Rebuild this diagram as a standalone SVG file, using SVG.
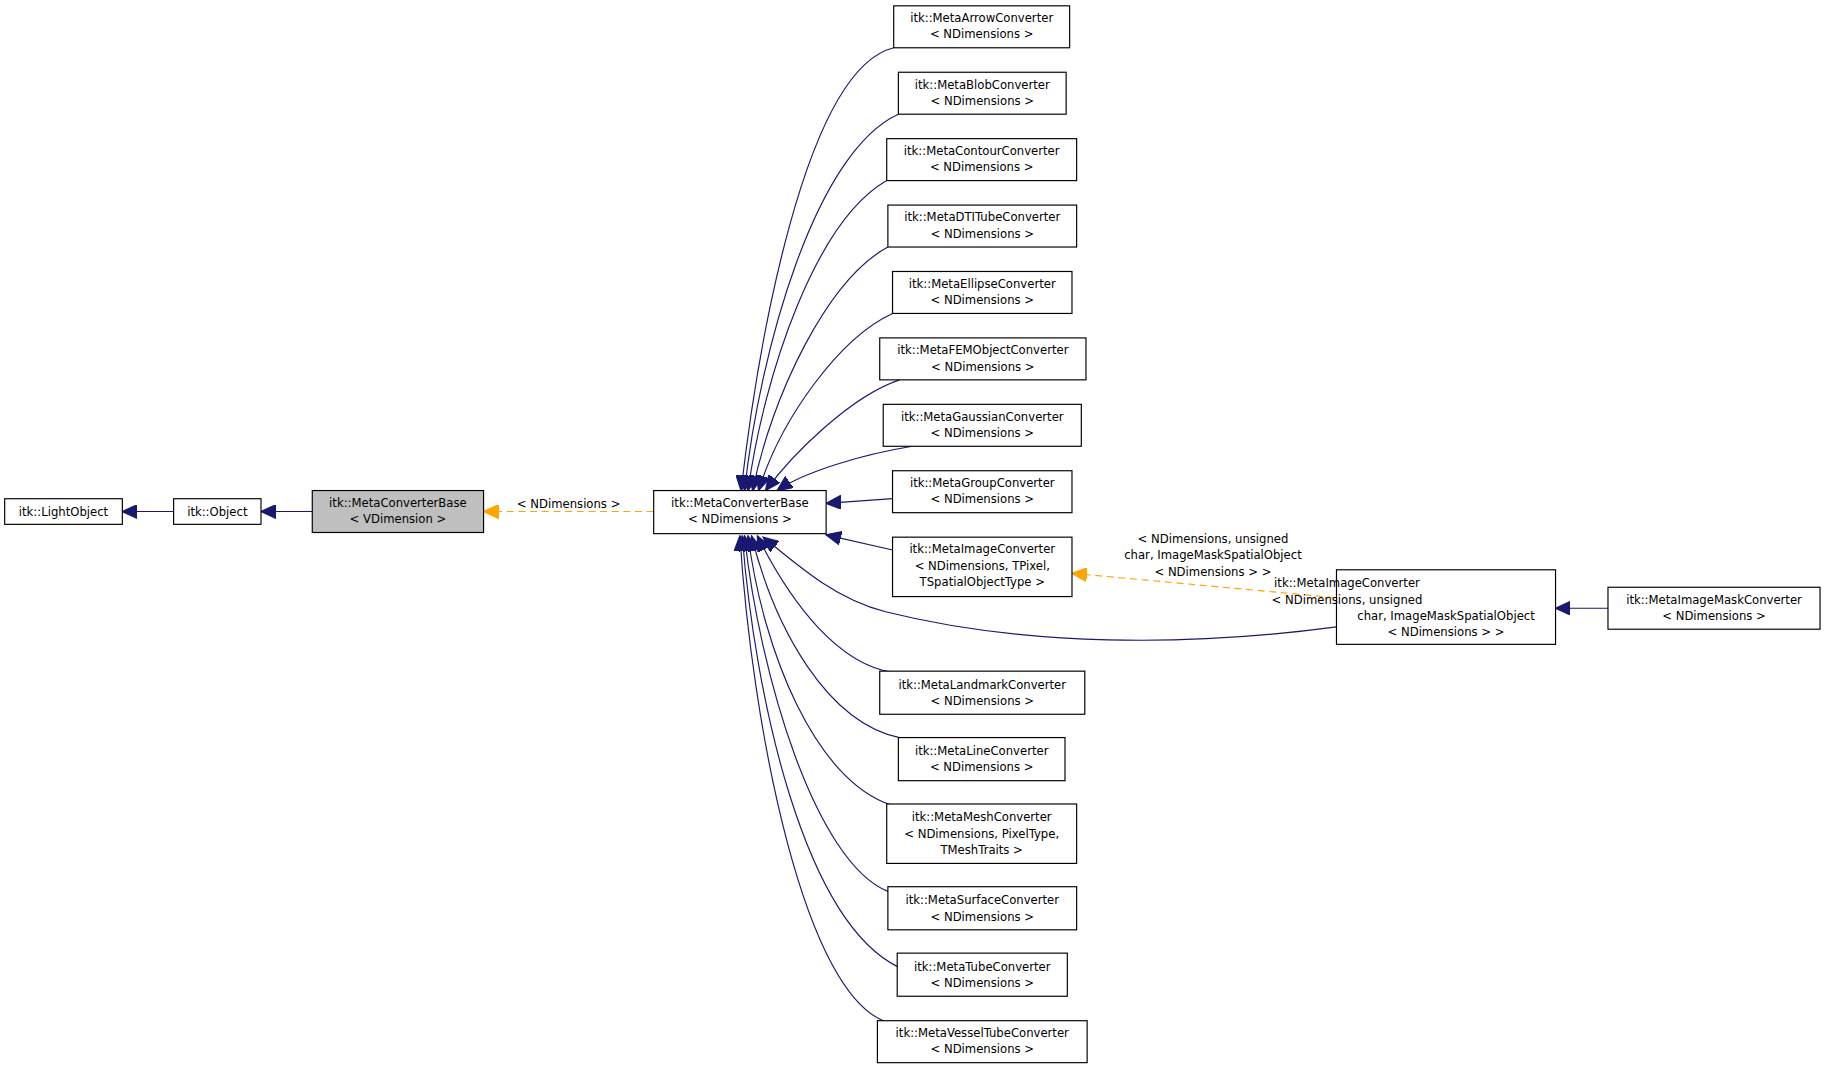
<svg xmlns="http://www.w3.org/2000/svg" width="1827" height="1069" viewBox="0 0 1827 1069">
<style>
.n rect{fill:#fff;stroke:#000;stroke-width:1}
.n.g rect{fill:#bfbfbf}
text{font-family:"DejaVu Sans",sans-serif;font-size:10px;fill:#000;text-anchor:middle}
.e{fill:none;stroke:#191970;stroke-width:1;marker-start:url(#a)}
.d{fill:none;stroke:#ffa500;stroke-width:1;stroke-dasharray:6,4;marker-start:url(#o)}
</style>
<defs>
<marker id="a" markerUnits="userSpaceOnUse" markerWidth="14" markerHeight="12" refX="11" refY="5" orient="auto-start-reverse" viewBox="0 0 12 10"><path d="M0,0L11,5L0,10z" fill="#191970" stroke="#191970"/></marker>
<marker id="o" markerUnits="userSpaceOnUse" markerWidth="14" markerHeight="12" refX="11" refY="5" orient="auto-start-reverse" viewBox="0 0 12 10"><path d="M0,0L11,5L0,10z" fill="#ffa500" stroke="#ffa500"/></marker>
</defs>
<rect width="1827" height="1069" fill="#fff"/>
<g transform="scale(1.1652)">
<g id="edges">
<path class="e" d="M105,439H149"/>
<path class="e" d="M224,439H268"/>
<path class="d" d="M415,439H561"/>
<text x="488" y="436">&lt; NDimensions &gt;</text>
<path class="e" d="M636,421C650,300 690,60 767,41"/>
<path class="e" d="M639,421C652,300 700,130 771,98"/>
<path class="e" d="M642,421C656,320 700,190 761,155"/>
<path class="e" d="M646,421C662,340 710,240 762,212"/>
<path class="e" d="M651,421C670,360 720,290 766,269"/>
<path class="e" d="M657,421C680,390 730,340 772,326"/>
<path class="e" d="M667,421C690,405 740,390 783,383"/>
<path class="e" d="M709,432L766,428"/>
<path class="e" d="M709,459L766,472"/>
<path class="e" d="M655,461C690,490 720,515 760,525C880,555 1020,555 1147,538"/>
<path class="d" d="M920,492L1147,513"/>
<text x="1041" y="466">&lt; NDimensions, unsigned</text>
<text x="1041" y="480">char, ImageMaskSpatialObject</text>
<text x="1041" y="494">&lt; NDimensions &gt; &gt;</text>
<path class="e" d="M1335,522H1380"/>
<path class="e" d="M650,460C680,520 720,570 766,577"/>
<path class="e" d="M645,460C665,540 710,620 772,633"/>
<path class="e" d="M642,460C655,560 700,670 765,691"/>
<path class="e" d="M639,460C652,580 700,740 762,765"/>
<path class="e" d="M637,460C648,600 690,790 771,830"/>
<path class="e" d="M635,460C645,620 690,860 764,878"/>
</g>
<g id="n1" class="n"><rect x="4" y="428" width="101" height="22"/><text x="54.5" y="443">itk::LightObject</text></g>
<g id="n2" class="n"><rect x="149" y="428" width="75" height="22"/><text x="186.5" y="443">itk::Object</text></g>
<g id="n3" class="n g"><rect x="268" y="421" width="147" height="36"/><text x="341.5" y="435">itk::MetaConverterBase</text><text x="341.5" y="449">&lt; VDimension &gt;</text></g>
<g id="n4" class="n"><rect x="561" y="421" width="148" height="37"/><text x="635" y="435">itk::MetaConverterBase</text><text x="635" y="449">&lt; NDimensions &gt;</text></g>
<g id="c1" class="n"><rect x="767" y="5" width="151" height="36"/><text x="842.5" y="19">itk::MetaArrowConverter</text><text x="842.5" y="33">&lt; NDimensions &gt;</text></g>
<g id="c2" class="n"><rect x="771" y="62" width="144" height="36"/><text x="843" y="76">itk::MetaBlobConverter</text><text x="843" y="90">&lt; NDimensions &gt;</text></g>
<g id="c3" class="n"><rect x="761" y="119" width="163" height="36"/><text x="842.5" y="133">itk::MetaContourConverter</text><text x="842.5" y="147">&lt; NDimensions &gt;</text></g>
<g id="c4" class="n"><rect x="762" y="176" width="162" height="36"/><text x="843" y="190">itk::MetaDTITubeConverter</text><text x="843" y="204">&lt; NDimensions &gt;</text></g>
<g id="c5" class="n"><rect x="766" y="233" width="154" height="36"/><text x="843" y="247">itk::MetaEllipseConverter</text><text x="843" y="261">&lt; NDimensions &gt;</text></g>
<g id="c6" class="n"><rect x="755" y="290" width="177" height="36"/><text x="843.5" y="304">itk::MetaFEMObjectConverter</text><text x="843.5" y="318">&lt; NDimensions &gt;</text></g>
<g id="c7" class="n"><rect x="758" y="347" width="170" height="36"/><text x="843" y="361">itk::MetaGaussianConverter</text><text x="843" y="375">&lt; NDimensions &gt;</text></g>
<g id="c8" class="n"><rect x="766" y="404" width="154" height="36"/><text x="843" y="418">itk::MetaGroupConverter</text><text x="843" y="432">&lt; NDimensions &gt;</text></g>
<g id="c9" class="n"><rect x="766" y="461" width="154" height="51"/><text x="843" y="475">itk::MetaImageConverter</text><text x="843" y="489">&lt; NDimensions, TPixel,</text><text x="843" y="503">TSpatialObjectType &gt;</text></g>
<g id="c10" class="n"><rect x="755" y="576" width="176" height="37"/><text x="843" y="591">itk::MetaLandmarkConverter</text><text x="843" y="605">&lt; NDimensions &gt;</text></g>
<g id="c11" class="n"><rect x="771" y="633" width="143" height="37"/><text x="842.5" y="648">itk::MetaLineConverter</text><text x="842.5" y="662">&lt; NDimensions &gt;</text></g>
<g id="c12" class="n"><rect x="761" y="690" width="163" height="51"/><text x="842.5" y="705">itk::MetaMeshConverter</text><text x="842.5" y="719">&lt; NDimensions, PixelType,</text><text x="842.5" y="733">TMeshTraits &gt;</text></g>
<g id="c13" class="n"><rect x="762" y="761" width="162" height="37"/><text x="843" y="776">itk::MetaSurfaceConverter</text><text x="843" y="790">&lt; NDimensions &gt;</text></g>
<g id="c14" class="n"><rect x="770" y="818" width="146" height="37"/><text x="843" y="833">itk::MetaTubeConverter</text><text x="843" y="847">&lt; NDimensions &gt;</text></g>
<g id="c15" class="n"><rect x="753" y="876" width="180" height="36"/><text x="843" y="890">itk::MetaVesselTubeConverter</text><text x="843" y="904">&lt; NDimensions &gt;</text></g>
<g id="s1" class="n"><rect x="1147" y="489" width="188" height="64"/><text x="1156" y="504" text-anchor="start">itk::MetaImageConverter</text><text x="1156" y="518" text-anchor="start">&lt; NDimensions, unsigned</text><text x="1241" y="532">char, ImageMaskSpatialObject</text><text x="1241" y="546">&lt; NDimensions &gt; &gt;</text></g>
<g id="s2" class="n"><rect x="1380" y="504" width="182" height="36"/><text x="1471" y="518">itk::MetaImageMaskConverter</text><text x="1471" y="532">&lt; NDimensions &gt;</text></g>
</g>
</svg>
